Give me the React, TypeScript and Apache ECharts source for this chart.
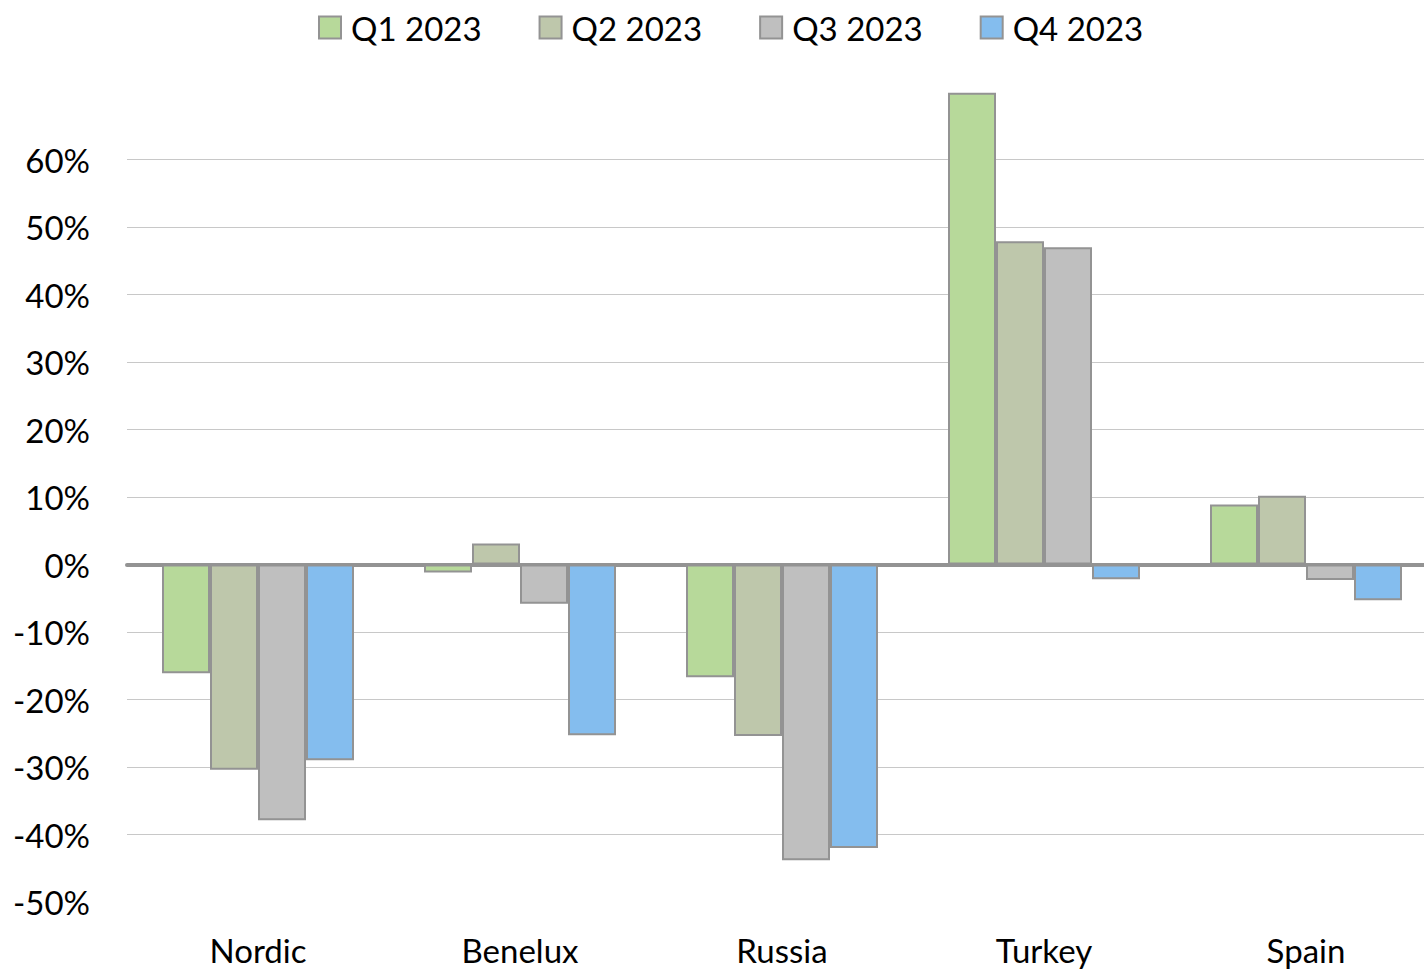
import React, { useEffect, useRef } from "react";
import * as echarts from "echarts";

const categories = ["Nordic", "Benelux", "Russia", "Turkey", "Spain"];
const seriesNames = ["Q1 2023", "Q2 2023", "Q3 2023", "Q4 2023"];
const q1 = [-16.1, -1.2, -16.7, 69.9, 8.9];
const q2 = [-30.4, 3.1, -25.4, 47.9, 10.2];
const q3 = [-37.9, -5.8, -43.8, 47.0, -2.3];
const q4 = [-29.0, -25.3, -42.0, -2.2, -5.3];
const seriesValues = [q1, q2, q3, q4];
const seriesColors = ["#b7d99a", "#bec7ab", "#bfbfbf", "#84bdee"];
const yTicks = [-50, -40, -30, -20, -10, 0, 10, 20, 30, 40, 50, 60, 70];

const FONT = "Lato";

export default function App() {
  const ref = useRef<HTMLDivElement>(null);
  useEffect(() => {
    if (!ref.current) return;
    const chart = echarts.init(ref.current, null, { renderer: "svg" });
    const gridColors = yTicks.map((t) => (t === -50 || t === 70 ? "rgba(0,0,0,0)" : "#c8c8c8"));
    chart.setOption({
      animation: false,
      backgroundColor: "#ffffff",
      textStyle: { fontFamily: FONT },
      legend: {
        top: 6,
        left: 313,
        icon: "rect",
        itemWidth: 22,
        itemHeight: 22,
        itemGap: 57,
        textStyle: { fontFamily: FONT, fontSize: 33, color: "#000", padding: [0, 0, 0, 5] },
        data: seriesNames,
      },
      grid: { left: 127, right: 3, top: 92, bottom: 68, containLabel: false },
      xAxis: [
        {
          type: "category",
          data: categories,
          axisLine: { onZero: true, lineStyle: { color: "#939393", width: 4 } },
          axisTick: { show: false },
          axisLabel: { show: false },
          splitLine: { show: false },
        },
        {
          type: "category",
          data: categories,
          position: "bottom",
          axisLine: { show: false },
          axisTick: { show: false },
          axisLabel: { fontFamily: FONT, fontSize: 33, color: "#000", margin: 31 },
          splitLine: { show: false },
        },
      ],
      yAxis: {
        type: "value",
        min: -50,
        max: 70,
        interval: 10,
        axisLine: { show: false },
        axisTick: { show: false },
        axisLabel: {
          fontFamily: FONT,
          fontSize: 33,
          color: "#000",
          margin: 37,
          formatter: (v: number) => (v === 70 ? "" : `${v}%`),
        },
        splitLine: { show: true, lineStyle: { color: gridColors, width: 1 } },
      },
      series: seriesNames.map((name, i) => ({
        name,
        type: "bar",
        xAxisIndex: 0,
        data: seriesValues[i],
        barWidth: 48,
        barGap: "0%",
        itemStyle: { color: seriesColors[i], borderColor: "#939393", borderWidth: 2 },
      })),
    });
    return () => chart.dispose();
  }, []);
  return (
    <div
      ref={ref}
      style={{ position: "fixed", left: 0, top: 0, width: 1440, height: 970, background: "#fff" }}
    />
  );
}
